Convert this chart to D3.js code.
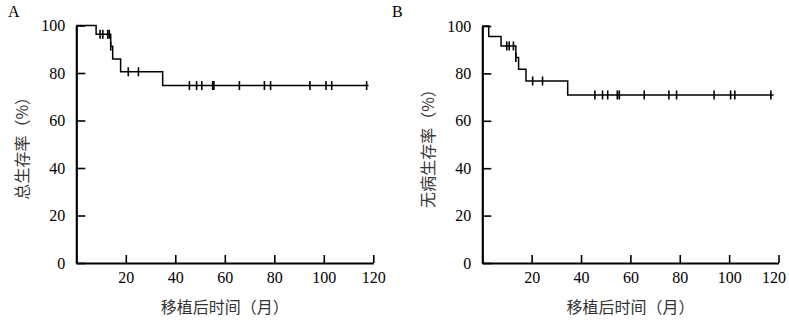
<!DOCTYPE html>
<html><head><meta charset="utf-8">
<script src="https://cdn.jsdelivr.net/npm/d3@7"></script>
<style>
html,body{margin:0;padding:0;background:#fff;}
svg{display:block;}
</style></head>
<body>
<svg id="chart" width="789" height="322"></svg>
<script>
// ---- data ----
const xTicks = [20, 40, 60, 80, 100, 120];
const yTicks = [0, 20, 40, 60, 80, 100];

// Panel A: overall survival (step times in months, survival %)
const osTimes = [0, 8.0, 13.9, 14.7, 17.9, 34.9];
const osSurv  = [100, 96.3, 91.3, 85.9, 80.5, 74.7];
const osEnd = 118.1;
const osCensor = [9.6, 10.7, 12.7, 13.3, 13.9, 21.0, 25.1, 45.7, 48.6, 50.7, 55.1, 55.6, 65.9, 76.0, 78.5, 94.4, 100.9, 103.2, 117.3];

// Panel B: disease-free survival
const dfsTimes = [0, 2.6, 7.6, 13.6, 14.7, 17.7, 34.6];
const dfsSurv  = [100, 95.6, 91.6, 86.7, 81.8, 76.8, 70.9];
const dfsEnd = 118.0;
const dfsCensor = [9.9, 10.9, 12.6, 13.6, 20.4, 24.4, 45.6, 48.7, 50.8, 54.7, 55.5, 65.6, 75.6, 78.7, 93.9, 100.6, 102.3, 116.9];

const panels = [
  {letter: "A", ylabel: "总生存率（%）", times: osTimes, surv: osSurv, end: osEnd, censor: osCensor,
   x0: 76.3, x1: 373.3, yTop: 25.5, letterX: 8, ylabelX: 21, lastShift: 0},
  {letter: "B", ylabel: "无病生存率（%）", times: dfsTimes, surv: dfsSurv, end: dfsEnd, censor: dfsCensor,
   x0: 482.3, x1: 778.5, yTop: 26, letterX: 392, ylabelX: 427, lastShift: -5}
];
const xLabel = "移植后时间（月）";

const svg = d3.select("#chart");
const serif = "'Liberation Serif','DejaVu Serif',serif";
const cjk = "'Noto Sans CJK SC','Noto Sans',sans-serif";
const yBottom = 263;

panels.forEach(p => {
  const x = d3.scaleLinear().domain([0, 120]).range([p.x0, p.x1]);
  const y = d3.scaleLinear().domain([0, 100]).range([yBottom, p.yTop]);
  const g = svg.append("g");

  // axes
  const ax = g.append("g").attr("transform", `translate(0,${yBottom})`)
    .call(d3.axisBottom(x).tickValues(xTicks).tickSizeInner(-8).tickSizeOuter(0).tickPadding(9));
  const ay = g.append("g").attr("transform", `translate(${p.x0},0)`)
    .call(d3.axisLeft(y).tickValues(yTicks).tickSizeInner(-9).tickSizeOuter(0).tickPadding(11));
  [ax, ay].forEach(a => {
    a.select(".domain").attr("stroke", "#000").attr("stroke-width", 2.2);
    a.selectAll(".tick line").attr("stroke", "#000").attr("stroke-width", 1.6);
    a.selectAll(".tick text").attr("fill", "#000").style("font-family", serif).style("font-size", "16px");
  });
  ax.selectAll(".tick text").filter(d => d === 120).attr("dx", p.lastShift);

  // survival step curve
  const pts = p.times.map((t, i) => [t, p.surv[i]]);
  pts.push([p.end, p.surv[p.surv.length - 1]]);
  const line = d3.line().x(d => x(d[0])).y(d => y(d[1])).curve(d3.curveStepAfter);
  g.append("path").datum(pts).attr("d", line)
    .attr("fill", "none").attr("stroke", "#000").attr("stroke-width", 1.5);

  // censor marks
  const survAt = t => {
    let s = p.surv[0];
    p.times.forEach((tt, i) => { if (tt <= t) s = p.surv[i]; });
    return s;
  };
  g.selectAll("line.cens").data(p.censor).enter().append("line")
    .attr("class", "cens")
    .attr("x1", d => x(d)).attr("x2", d => x(d))
    .attr("y1", d => y(survAt(d)) - 4.5).attr("y2", d => y(survAt(d)) + 4.5)
    .attr("stroke", "#000").attr("stroke-width", 1.6);

  // panel letter
  g.append("text").attr("x", p.letterX).attr("y", 17).text(p.letter)
    .style("font-family", serif).style("font-size", "16px").attr("fill", "#000");

  // y label
  const ymid = (yBottom + p.yTop) / 2;
  g.append("text")
    .attr("transform", `translate(${p.ylabelX},${ymid}) rotate(-90)`)
    .attr("text-anchor", "middle").attr("dominant-baseline", "central")
    .text(p.ylabel).style("font-family", cjk).style("font-size", "16px").attr("fill", "#333");

  // x label
  g.append("text").attr("x", (p.x0 + p.x1) / 2).attr("y", 313)
    .attr("text-anchor", "middle").text(xLabel)
    .style("font-family", cjk).style("font-size", "16px").attr("fill", "#333");
});
</script>
</body></html>
